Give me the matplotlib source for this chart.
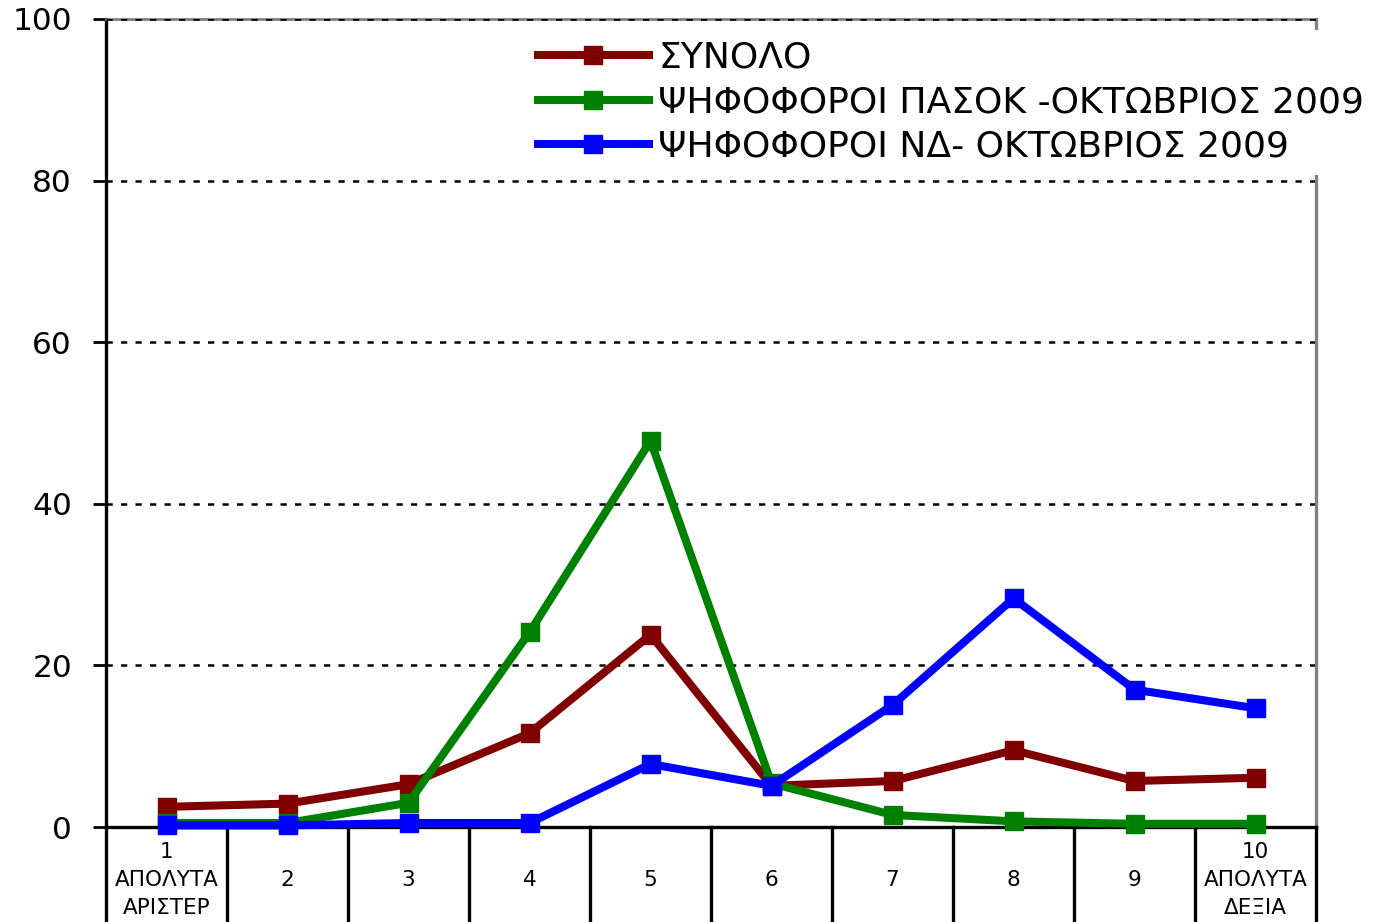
import matplotlib
matplotlib.use("Agg")
import matplotlib.pyplot as plt
import matplotlib.transforms as mtransforms

plt.rcParams['font.family'] = ['DejaVu Sans']

categories = [1, 2, 3, 4, 5, 6, 7, 8, 9, 10]
tick_labels = ["1\nΑΠΟΛΥΤΑ\nΑΡΙΣΤΕΡ", "2", "3", "4", "5", "6", "7", "8", "9",
               "10\nΑΠΟΛΥΤΑ\nΔΕΞΙΑ"]
synolo = [2.5, 2.9, 5.3, 11.6, 23.8, 5.1, 5.7, 9.5, 5.7, 6.1]
pasok = [0.5, 0.5, 3.0, 24.1, 47.8, 5.4, 1.5, 0.7, 0.4, 0.4]
nd = [0.2, 0.2, 0.5, 0.5, 7.8, 5.1, 15.1, 28.3, 17.0, 14.7]
series_names = ["ΣΥΝΟΛΟ", "ΨΗΦΟΦΟΡΟΙ ΠΑΣΟΚ -ΟΚΤΩΒΡΙΟΣ 2009",
                "ΨΗΦΟΦΟΡΟΙ ΝΔ- ΟΚΤΩΒΡΙΟΣ 2009"]
colors = ['#800000', '#008000', '#0000FF']

fig = plt.figure(figsize=(13.97, 9.22), dpi=100)
ax = fig.add_axes([0.0759, 0.1030, 0.8662, 0.8764])

for vals, name, col in zip([synolo, pasok, nd], series_names, colors):
    ax.plot(categories, vals, color=col, linewidth=5.8, marker='s', markersize=13,
            label=name, clip_on=False, zorder=4)

ax.set_xlim(0.5, 10.5)
ax.set_ylim(0, 100)
ax.set_yticks([0, 20, 40, 60, 80, 100])
ax.tick_params(axis='y', labelsize=22.5, length=9.5, width=2, pad=15, direction='out')
ax.set_xticks([])
ax.grid(axis='y', color='black', linestyle=(0, (2.5, 3.3)), linewidth=1.8, zorder=1)
ax.set_axisbelow(True)

ax.spines['left'].set_linewidth(2.4)
ax.spines['bottom'].set_linewidth(2.4)
ax.spines['top'].set_color('#808080')
ax.spines['top'].set_linewidth(2)
ax.spines['right'].set_color('#808080')
ax.spines['right'].set_linewidth(2.4)
# dashed grid line drawn over the grey top border
ax.axhline(100, color='black', linestyle=(0, (2.5, 3.3)), linewidth=1.8, zorder=3)

# table-like category cells below the axis
trans = mtransforms.blended_transform_factory(ax.transData, ax.transAxes)
for b in [c - 0.5 for c in categories] + [categories[-1] + 0.5]:
    ax.plot([b, b], [0, -0.2], color='black', linewidth=2.4, transform=trans,
            clip_on=False, zorder=3)
for c, lab in zip(categories, tick_labels):
    ax.text(c, -0.0655, lab, transform=trans, ha='center', va='center',
            fontsize=15.5, linespacing=1.5)

leg = ax.legend(loc='upper left', bbox_to_anchor=(0.3772, 0.9675),
                bbox_transform=fig.transFigure, fontsize=26, frameon=True,
                facecolor='white', edgecolor='none', framealpha=1,
                handlelength=3.07, handletextpad=0.27, labelspacing=0.29,
                borderpad=0.3, borderaxespad=0)
leg.get_frame().set_boxstyle('square', pad=0)

fig.savefig('out.png', dpi=100)
